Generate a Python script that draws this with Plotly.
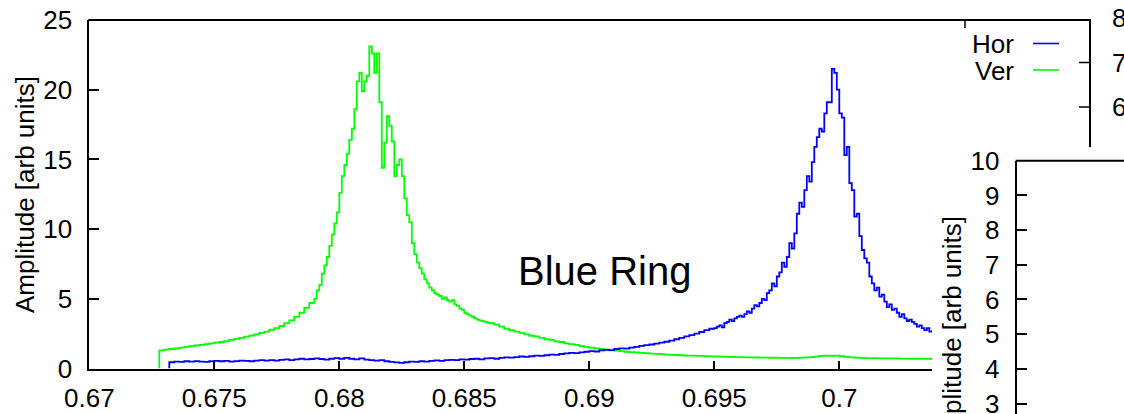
import plotly.graph_objects as go

W, H = 1124, 414

# ---------------- data ----------------
X_TICKS = [0.67, 0.675, 0.68, 0.685, 0.69, 0.695, 0.7]
X_TICK_TEXT = ["0.67", "0.675", "0.68", "0.685", "0.69", "0.695", "0.7"]
Y_TICKS = [0, 5, 10, 15, 20, 25]
Y2_TICKS = [3, 4, 5, 6, 7, 8, 9, 10]

# Ver (green): three frequency segments (start, step) with amplitudes
VER_A_START, VER_A_STEP = 0.6728, 0.0002
VER_A = [1.3, 1.35, 1.4, 1.45, 1.5, 1.55, 1.6, 1.65, 1.7, 1.75,
         1.8, 1.85, 1.9, 1.97, 2.05, 2.12, 2.2, 2.28, 2.36, 2.45,
         2.55, 2.65, 2.78, 2.9, 3.05, 3.25, 3.45, 3.7, 4.0, 4.35,
         4.7]
VER_B_START, VER_B_STEP = 0.6790, 0.0001
VER_B = [5.0, 5.6, 6.0, 6.8, 7.4, 8.0, 8.8, 9.6, 10.4, 11.2,
         12.6, 13.8, 14.6, 15.4, 16.4, 17.2, 18.6, 20.6, 21.2, 19.9,
         20.6, 21.0, 23.1, 22.6, 21.2, 22.6, 19.1, 14.4, 16.2, 18.1,
         17.4, 16.3, 13.8, 14.6, 15.0, 13.8, 12.2, 11.0, 10.5, 9.0,
         8.2, 7.6, 7.2, 6.8, 6.4, 6.1, 5.8, 5.6, 5.4, 5.3,
         5.2, 5.0, 5.1, 4.9, 4.8, 4.9, 4.6, 4.5, 4.3, 4.2,
         4.0, 3.9, 3.8, 3.7, 3.6, 3.5, 3.45, 3.4, 3.35, 3.3]
VER_C_START, VER_C_STEP = 0.6860, 0.0002
VER_C = [3.25, 3.15, 3.0, 2.85, 2.75, 2.65, 2.55, 2.45, 2.35, 2.3,
         2.2, 2.1, 2.05, 1.95, 1.9, 1.8, 1.75, 1.7, 1.6, 1.55,
         1.5, 1.45, 1.4, 1.35, 1.3, 1.28, 1.25, 1.2, 1.18, 1.15,
         1.12, 1.1, 1.07, 1.05, 1.03, 1.0, 0.98, 0.97, 0.95, 0.93,
         0.92, 0.9, 0.9, 0.88, 0.87, 0.86, 0.85, 0.84, 0.83, 0.82,
         0.82, 0.8, 0.8, 0.79, 0.78, 0.78, 0.77, 0.77, 0.76, 0.76,
         0.75, 0.76, 0.78, 0.8, 0.82, 0.85, 0.9, 0.92, 0.9, 0.92,
         0.88, 0.84, 0.8, 0.78, 0.76, 0.75, 0.74, 0.74, 0.73, 0.73,
         0.72, 0.72, 0.71, 0.71, 0.7, 0.7, 0.7, 0.69, 0.7, 0.69]

# Hor (blue)
HOR_A_START, HOR_A_STEP = 0.6732, 0.0002
HOR_A = [0.45, 0.5, 0.48, 0.52, 0.5, 0.53, 0.5, 0.48, 0.52, 0.55,
         0.52, 0.55, 0.5, 0.53, 0.57, 0.55, 0.52, 0.56, 0.6, 0.57,
         0.6, 0.56, 0.62, 0.65, 0.6, 0.66, 0.7, 0.65, 0.68, 0.72,
         0.68, 0.64, 0.7, 0.75, 0.7, 0.76, 0.7, 0.66, 0.72, 0.64,
         0.6, 0.56, 0.6, 0.52, 0.48, 0.44, 0.4, 0.45, 0.5, 0.47,
         0.52, 0.5, 0.55, 0.58, 0.55, 0.6, 0.62, 0.6, 0.66, 0.64,
         0.68, 0.7, 0.66, 0.72, 0.74, 0.7, 0.76, 0.8, 0.78, 0.82,
         0.86, 0.84, 0.88, 0.92, 0.9, 0.95, 1.0, 0.98, 1.04, 1.08,
         1.12, 1.1, 1.16, 1.2, 1.24, 1.22, 1.3, 1.34, 1.32, 1.4,
         1.45, 1.42, 1.5, 1.55, 1.62, 1.68, 1.72, 1.78, 1.85, 1.92,
         2.0, 2.1, 2.2, 2.3, 2.4, 2.5, 2.62, 2.75, 2.85]
HOR_B_START, HOR_B_STEP = 0.6950, 0.0001
HOR_B = [2.9, 3.0, 3.1, 2.95, 3.25, 3.35, 3.5, 3.4, 3.6, 3.7,
         3.8, 3.7, 3.9, 4.1, 4.0, 4.3, 4.55, 4.45, 4.7, 5.0,
         4.9, 5.4, 5.6, 6.1, 5.9, 6.6, 6.9, 7.6, 7.3, 8.0,
         9.0, 8.6, 9.7, 11.1, 11.9, 11.6, 12.8, 13.8, 13.4, 14.8,
         15.9, 16.6, 17.2, 17.0, 18.3, 19.1, 19.1, 21.5, 21.2, 20.0,
         18.3, 18.0, 15.3, 15.9, 13.3, 12.8, 10.9, 11.1, 9.5, 8.5,
         7.9, 7.6, 6.6, 6.1, 5.6, 5.8, 5.15, 5.3, 4.8, 4.4,
         4.6, 4.2, 4.3, 4.0, 3.7, 3.9, 3.6, 3.4, 3.5, 3.35,
         3.2, 3.0, 3.1, 2.9, 2.76, 2.9, 2.64, 2.75]


def grid(start, step, n):
    return [round(start + i * step, 5) for i in range(n)]


ver_x = ([VER_A_START] + grid(VER_A_START, VER_A_STEP, len(VER_A))
         + grid(VER_B_START, VER_B_STEP, len(VER_B))
         + grid(VER_C_START, VER_C_STEP, len(VER_C)))
ver_y = [0] + VER_A + VER_B + VER_C
hor_x = ([HOR_A_START] + grid(HOR_A_START, HOR_A_STEP, len(HOR_A))
         + grid(HOR_B_START, HOR_B_STEP, len(HOR_B)))
hor_y = [0] + HOR_A + HOR_B

BLUE = "#0000ff"
GREEN = "#00ff00"
FONT = "Liberation Sans, Arial, Helvetica, sans-serif"
TICK_SIZE = 26
TEXT_SIZE = 26


def fx(px):
    return px / W


def fy(py):
    return 1 - py / H


fig = go.Figure()
fig.add_trace(go.Scatter(x=ver_x, y=ver_y, mode="lines", line_shape="hv",
                         line=dict(color=GREEN, width=1.8), name="Ver",
                         xaxis="x", yaxis="y"))
fig.add_trace(go.Scatter(x=hor_x, y=hor_y, mode="lines", line_shape="hv",
                         line=dict(color=BLUE, width=1.8), name="Hor",
                         xaxis="x", yaxis="y"))
# second (overlapping) panel: empty frame
fig.add_trace(go.Scatter(x=[], y=[], xaxis="x2", yaxis="y2", showlegend=False))

axis_common = dict(showgrid=False, zeroline=False, showline=True,
                   linecolor="black", linewidth=2, ticks="inside",
                   tickcolor="black", tickwidth=1.5, automargin=False,
                   ticklabeloverflow="allow",
                   tickfont=dict(family=FONT, size=TICK_SIZE, color="black"))

fig.update_layout(
    width=W, height=H,
    margin=dict(l=0, r=0, t=0, b=0, pad=0, autoexpand=False),
    paper_bgcolor="white", plot_bgcolor="rgba(0,0,0,0)",
    showlegend=False,
    xaxis=dict(domain=[fx(89.3), fx(932)], range=[0.67, 0.703708],
               tickvals=X_TICKS, ticktext=X_TICK_TEXT, ticklen=8,
               ticklabelstandoff=5, anchor="y", **axis_common),
    yaxis=dict(domain=[fy(368.5), fy(20)], range=[0, 25],
               tickvals=Y_TICKS, ticklen=10, ticklabelstandoff=10,
               anchor="x", **axis_common),
    xaxis2=dict(domain=[fx(1016.7), 1], range=[0, 1], visible=False,
                anchor="y2", automargin=False),
    yaxis2=dict(domain=[0, fy(160.7)], range=[2.70, 10],
                tickvals=Y2_TICKS, ticklen=10, ticklabelstandoff=10,
                anchor="x2", **axis_common),
)

line_k = dict(color="black", width=2)
shapes = [
    # top border of the main frame, continuing under the legend
    dict(type="line", xref="paper", yref="paper", x0=fx(88.3), x1=fx(1091),
         y0=fy(20), y1=fy(20), line=line_k),
    # right border visible above the overlapping panel
    dict(type="line", xref="paper", yref="paper", x0=fx(1090), x1=fx(1090),
         y0=fy(19), y1=fy(147), line=line_k),
    dict(type="line", xref="paper", yref="paper", x0=fx(1079), x1=fx(1090),
         y0=fy(62.5), y1=fy(62.5), line=dict(color="black", width=1.5)),
    dict(type="line", xref="paper", yref="paper", x0=fx(1079), x1=fx(1090),
         y0=fy(107), y1=fy(107), line=dict(color="black", width=1.5)),
    dict(type="line", xref="paper", yref="paper", x0=fx(965), x1=fx(965),
         y0=fy(20), y1=fy(28), line=dict(color="black", width=1.5)),
    # top border of second panel
    dict(type="line", xref="paper", yref="paper", x0=fx(1015.7), x1=1,
         y0=fy(160.7), y1=fy(160.7), line=line_k),
    # legend samples
    dict(type="line", xref="paper", yref="paper", x0=fx(1033), x1=fx(1059),
         y0=fy(43.5), y1=fy(43.5), line=dict(color=BLUE, width=1.6)),
    dict(type="line", xref="paper", yref="paper", x0=fx(1033), x1=fx(1059),
         y0=fy(70), y1=fy(70), line=dict(color=GREEN, width=1.6)),
]
fig.update_layout(shapes=shapes)

ann_font = dict(family=FONT, size=TEXT_SIZE, color="black")
annotations = [
    dict(text="Amplitude [arb units]", x=fx(25), y=fy(195), textangle=-90,
         xref="paper", yref="paper", showarrow=False, font=ann_font,
         xanchor="center", yanchor="middle"),
    dict(text="Amplitude [arb units]", x=fx(952), y=fy(335), textangle=-90,
         xref="paper", yref="paper", showarrow=False, font=ann_font,
         xanchor="center", yanchor="middle"),
    dict(text="Blue Ring", x=fx(604), y=fy(271), xref="paper", yref="paper",
         showarrow=False, font=dict(family=FONT, size=40, color="black"),
         xanchor="center", yanchor="middle"),
    dict(text="Hor", x=fx(1016), y=fy(44), xref="paper", yref="paper",
         showarrow=False, font=ann_font, xanchor="right", yanchor="middle"),
    dict(text="Ver", x=fx(1016), y=fy(71), xref="paper", yref="paper",
         showarrow=False, font=ann_font, xanchor="right", yanchor="middle"),
    dict(text="8", x=fx(1110), y=fy(18), xref="paper", yref="paper",
         showarrow=False, font=ann_font, xanchor="left", yanchor="middle"),
    dict(text="7", x=fx(1110), y=fy(63), xref="paper", yref="paper",
         showarrow=False, font=ann_font, xanchor="left", yanchor="middle"),
    dict(text="6", x=fx(1110), y=fy(107), xref="paper", yref="paper",
         showarrow=False, font=ann_font, xanchor="left", yanchor="middle"),
]
fig.update_layout(annotations=annotations)

fig.write_html("out.html",
               config={"displayModeBar": False},
               post_script="document.body.style.margin='0px';"
                           "document.body.style.overflow='hidden';")
